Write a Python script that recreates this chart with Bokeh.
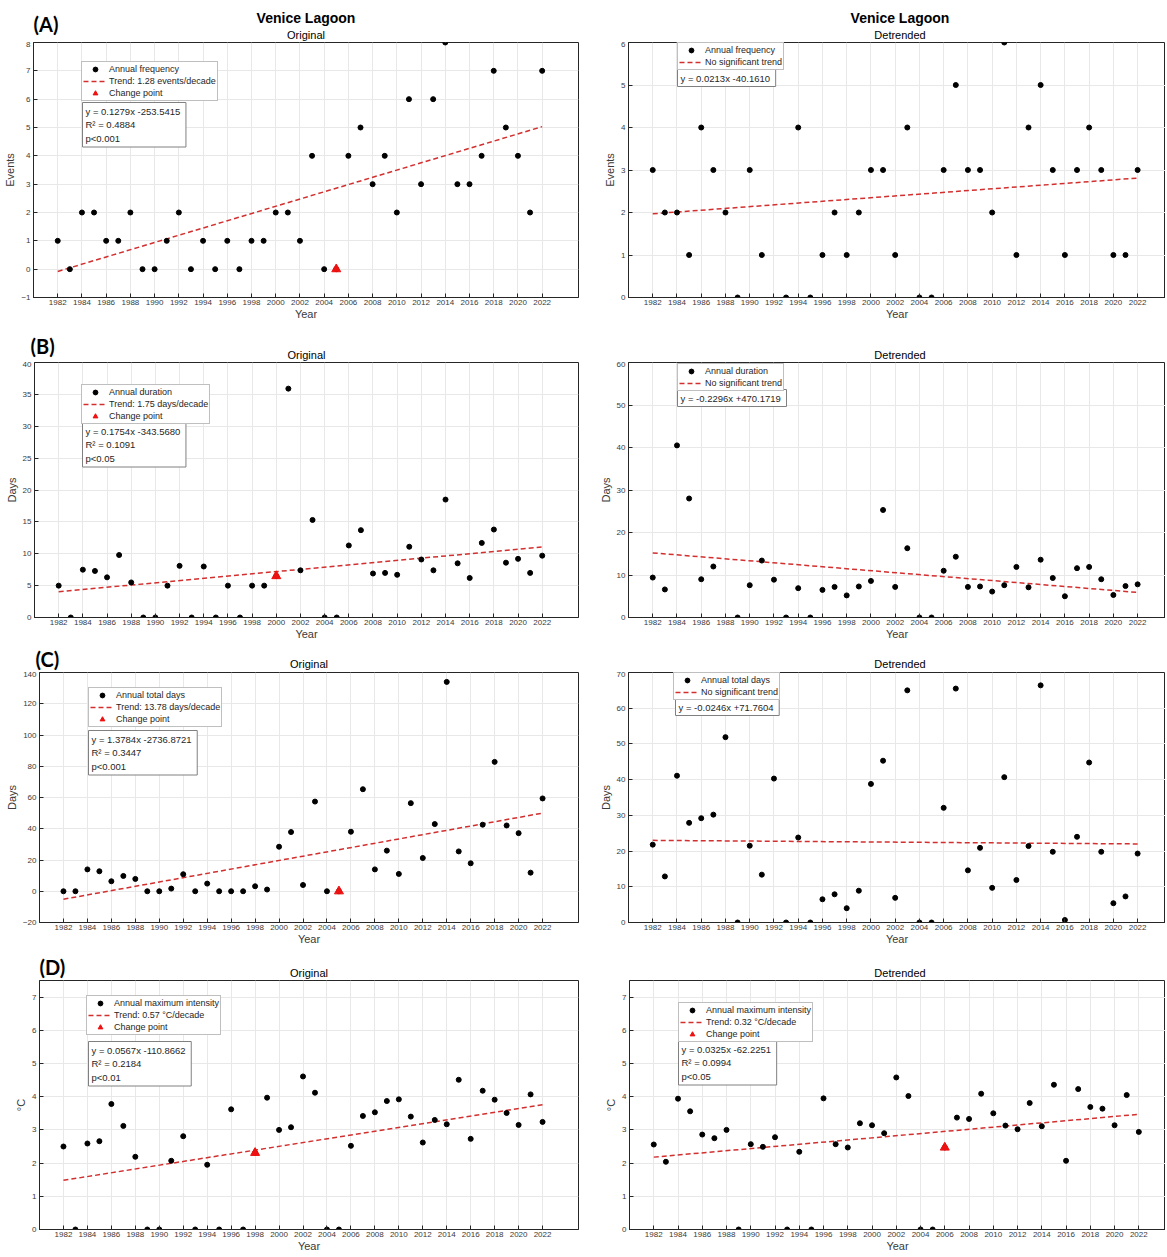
from bokeh.plotting import figure
from bokeh.models import Range1d, FixedTicker, Legend, LegendItem, Label
from bokeh.layouts import column, row
from bokeh.embed import file_html
from bokeh.resources import INLINE
from bokeh.core.properties import value

nan = float("nan")

years = list(range(1982, 2023))
year_ticks = list(range(1982, 2023, 2))

# ---- (A) annual frequency of events ----
freq_orig = [1, 0, 2, 2, 1, 1, 2, 0, 0, 1,
             2, 0, 1, 0, 1, 0, 1, 1, 2, 2,
             1, 4, 0, 0, 4, 5, 3, 4, 2, 6,
             3, 6, 8, 3, 3, 4, 7, 5, 4, 2,
             7]
freq_detr = [3, 2, 2, 1, 4, 3, 2, 0, 3, 1,
             nan, 0, 4, 0, 1, 2, 1, 2, 3, 3,
             1, 4, 0, 0, 3, 5, 3, 3, 2, 6,
             1, 4, 5, 3, 1, 3, 4, 3, 1, 1,
             3]
# ---- (B) annual duration (days) ----
dur_orig = [5.0, 0, 7.5, 7.3, 6.3, 9.8, 5.5, 0, 0, 5.0,
            8.1, 0, 8.0, 0, 5.0, 0, 5.0, 5.0, 6.5, 35.9,
            7.4, 15.3, 0, 0, 11.3, 13.7, 6.9, 7.0, 6.7, 11.1,
            9.1, 7.4, 18.5, 8.5, 6.2, 11.7, 13.8, 8.6, 9.2, 7.0,
            9.7]
dur_detr = [9.4, 6.6, 40.5, 28.0, 9.0, 12.0, nan, 0, 7.6, 13.4,
            8.9, 0, 6.9, 0, 6.5, 7.2, 5.2, 7.3, 8.6, 25.3,
            7.2, 16.3, 0, 0, 11.0, 14.3, 7.2, 7.3, 6.1, 7.6,
            11.9, 7.1, 13.6, 9.3, 5.0, 11.6, 11.9, 9.0, 5.3, 7.4,
            7.8]
# ---- (C) annual total days ----
total_orig = [0, 0, 14.0, 12.8, 6.4, 9.8, 7.9, 0, 0, 1.7,
              10.9, 0, 4.9, 0, 0, 0, 3.2, 1.1, 28.5, 37.9,
              4.0, 57.4, 0, 0, 38.1, 65.3, 14.0, 26.0, 11.1, 56.4,
              21.3, 43.0, 134.0, 25.5, 17.9, 42.6, 82.8, 42.1, 37.2, 11.9,
              59.4]
total_detr = [21.8, 12.9, 41.1, 27.9, 29.2, 30.2, 51.9, 0, 21.5, 13.4,
              40.3, 0, 23.8, 0, 6.5, 7.9, 4.0, 8.9, 38.8, 45.3,
              6.9, 65.0, 0, 0, 32.1, 65.5, 14.6, 20.9, 9.7, 40.7,
              11.9, 21.4, 66.4, 19.8, 0.7, 24.0, 44.8, 19.8, 5.4, 7.3,
              19.3]
# ---- (D) annual maximum intensity (deg C) ----
intens_orig = [2.50, 0, 2.59, 2.66, 3.78, 3.12, 2.19, 0, 0, 2.07,
               2.81, 0, 1.95, 0, 3.62, 0, 2.31, 3.97, 3.00, 3.08,
               4.61, 4.12, 0, 0, 2.52, 3.42, 3.53, 3.87, 3.92, 3.40,
               2.62, 3.30, 3.17, 4.51, 2.73, 4.18, 3.91, 3.51, 3.15, 4.07,
               3.24]
intens_detr = [2.56, 2.04, 3.94, 3.56, 2.86, 2.75, 3.00, 0, 2.57, 2.49,
               2.78, 0, 2.34, 0, 3.95, 2.57, 2.47, 3.20, 3.14, 2.90,
               4.58, 4.02, 0, 0, 2.47, 3.37, 3.33, 4.09, 3.50, 3.13,
               3.02, 3.81, 3.11, 4.36, 2.07, 4.23, 3.69, 3.64, 3.14, 4.05,
               2.94]

# trend lines, value at 1982 and at 2022
trend_years = [1982, 2022]
freq_orig_trend = [-0.08, 5.03]
freq_detr_trend = [1.97, 2.81]
dur_orig_trend = [4.04, 11.06]
dur_detr_trend = [15.2, 5.9]
total_orig_trend = [-5.1, 50.0]
total_detr_trend = [23.0, 22.0]
intens_orig_trend = [1.48, 3.76]
intens_detr_trend = [2.18, 3.47]

# change point years (None = no change point shown)
freq_orig_cp = 2005
dur_orig_cp = 2000
total_orig_cp = 2005
intens_orig_cp = 1998
intens_detr_cp = 2006

# y-axis ticks
freq_orig_ticks = [-1, 0, 1, 2, 3, 4, 5, 6, 7, 8]
freq_detr_ticks = [0, 1, 2, 3, 4, 5, 6]
dur_orig_ticks = [0, 5, 10, 15, 20, 25, 30, 35, 40]
dur_detr_ticks = [0, 10, 20, 30, 40, 50, 60]
total_orig_ticks = [-20, 0, 20, 40, 60, 80, 100, 120, 140]
total_detr_ticks = [0, 10, 20, 30, 40, 50, 60, 70]
intens_ticks = [0, 1, 2, 3, 4, 5, 6, 7]

FONT = "Liberation Sans"
DARK = "#262626"
TXT = "#3a3a3a"
TREND = "#d22f2f"
PAGE_W = 1165


def header(height, texts):
    """A strip above a row of panels holding the panel letter and the titles."""
    h = figure(width=PAGE_W, height=height, x_range=Range1d(0, PAGE_W), y_range=Range1d(0, height),
               x_axis_type=None, y_axis_type=None, output_backend="svg", toolbar_location=None,
               min_border=0, background_fill_color="white", border_fill_color="white")
    h.outline_line_color = None
    for (x, y, txt, font, size, style, align) in texts:
        h.text(x=[x], y=[y], text=[txt], text_font=value(font), text_font_size=size,
               text_font_style=style, text_align=align, text_baseline="middle", text_color="black")
    return h


def make_panel(data, trend, labels, eq_text, ylabel, yrange, yticks, cp,
               width, height, bl, br, bt, bb, x_end, leg_pos, eq_pos):
    fh = height - bt - bb
    p = figure(width=width, height=height,
               x_range=Range1d(1980, x_end), y_range=Range1d(*yrange),
               output_backend="svg", toolbar_location=None, title=None,
               min_border_left=bl, min_border_right=br,
               min_border_top=bt, min_border_bottom=bb,
               background_fill_color="white", border_fill_color="white")
    p.outline_line_color = DARK
    p.outline_line_alpha = 1.0
    p.xaxis.ticker = FixedTicker(ticks=year_ticks)
    p.yaxis.ticker = FixedTicker(ticks=yticks)
    p.xaxis.axis_label = "Year"
    p.yaxis.axis_label = ylabel
    for ax in (p.xaxis[0], p.yaxis[0]):
        ax.axis_line_color = DARK
        ax.major_tick_line_color = DARK
        ax.major_tick_in = 4
        ax.major_tick_out = 0
        ax.minor_tick_line_color = None
        ax.major_label_text_font = FONT
        ax.major_label_text_font_size = "8px"
        ax.major_label_text_color = TXT
        ax.major_label_standoff = 3
        ax.axis_label_text_font = FONT
        ax.axis_label_text_font_size = "11px"
        ax.axis_label_text_font_style = "normal"
        ax.axis_label_text_color = TXT
        ax.axis_label_standoff = 2
    p.xaxis[0].axis_label_standoff = 0
    p.xaxis[0].major_label_standoff = 2
    p.xgrid.grid_line_color = "#e8e8e8"
    p.ygrid.grid_line_color = "#e8e8e8"

    r_trend = p.line(trend_years, trend, line_color=TREND, line_width=1.5, line_dash="5 3")
    r_dots = p.scatter(years, data, marker="circle", size=5, fill_color="black", line_color="black")
    items = [LegendItem(label=labels[0], renderers=[r_dots]),
             LegendItem(label=labels[1], renderers=[r_trend])]
    if cp is not None:
        r_cp = p.scatter([cp], [data[years.index(cp)]], marker="triangle", size=9,
                         fill_color="#ee1111", line_color="#ee1111")
        items.append(LegendItem(label="Change point", renderers=[r_cp]))

    pad = 1
    row_h = 12
    lh = 2 * pad + row_h * len(items) + 2
    leg = Legend(items=items, location=(leg_pos[0], fh - leg_pos[1] - lh),
                 label_text_font=FONT, label_text_font_size="9px", label_text_color=DARK,
                 glyph_width=24, glyph_height=row_h, label_height=row_h, label_standoff=2,
                 padding=pad, spacing=0, margin=0,
                 border_line_color="#808080", border_line_width=1,
                 background_fill_color="white", background_fill_alpha=1.0)
    p.add_layout(leg)

    p.add_layout(Label(x=eq_pos[0], y=fh - eq_pos[1], x_units="screen", y_units="screen",
                       text=eq_text, text_align="left", text_baseline="top",
                       text_font=FONT, text_font_size="9.5px", text_color=DARK,
                       text_line_height=1.25, padding=3,
                       border_line_color="#808080", border_line_width=1,
                       background_fill_color="white", background_fill_alpha=1.0))
    return p


LW = 580
RW = PAGE_W - LW
XR = 2024.3

hA = header(41, [(33, 17.5, "(A)", "Lato", "20px", "bold", "left"),
                 (305.5, 24, "Venice Lagoon", FONT, "14px", "bold", "center"),
                 (899.5, 24, "Venice Lagoon", FONT, "14px", "bold", "center"),
                 (305.5, 7, "Original", FONT, "11px", "normal", "center"),
                 (899.5, 7, "Detrended", FONT, "11px", "normal", "center")])
pA1 = make_panel(freq_orig, freq_orig_trend,
                 ["Annual frequency", "Trend: 1.28 events/decade"],
                 "y = 0.1279x  -253.5415\nR² = 0.4884\np<0.001", "Events",
                 (-1, 8), freq_orig_ticks, freq_orig_cp,
                 LW, 284, 33, 2, 1, 28, 2025, (48, 19), (49, 60))
pA2 = make_panel(freq_detr, freq_detr_trend,
                 ["Annual frequency", "No significant trend"],
                 "y = 0.0213x  -40.1610", "Events",
                 (0, 6), freq_detr_ticks, None,
                 RW, 284, 48, 0, 1, 28, XR, (49, 0), (49, 27))

hB = header(36, [(30, 16, "(B)", "Lato", "20px", "bold", "left"),
                 (306, 7, "Original", FONT, "11px", "normal", "center"),
                 (899.5, 7, "Detrended", FONT, "11px", "normal", "center")])
pB1 = make_panel(dur_orig, dur_orig_trend,
                 ["Annual duration", "Trend: 1.75 days/decade"],
                 "y = 0.1754x  -343.5680\nR² = 0.1091\np<0.05", "Days",
                 (0, 40), dur_orig_ticks, dur_orig_cp,
                 LW, 284, 34, 2, 1, 28, 2025, (47, 22), (48, 60))
pB2 = make_panel(dur_detr, dur_detr_trend,
                 ["Annual duration", "No significant trend"],
                 "y = -0.2296x  +470.1719", "Days",
                 (0, 60), dur_detr_ticks, None,
                 RW, 284, 48, 0, 1, 28, XR, (49, 1), (49, 27))

hC = header(26, [(35, 12.5, "(C)", "Lato", "20px", "bold", "left"),
                 (308.5, 8, "Original", FONT, "11px", "normal", "center"),
                 (899.5, 8, "Detrended", FONT, "11px", "normal", "center")])
pC1 = make_panel(total_orig, total_orig_trend,
                 ["Annual total days", "Trend: 13.78 days/decade"],
                 "y = 1.3784x  -2736.8721\nR² = 0.3447\np<0.001", "Days",
                 (-20, 140), total_orig_ticks, total_orig_cp,
                 LW, 279, 39, 2, 1, 28, 2025, (49, 15), (49, 58))
pC2 = make_panel(total_detr, total_detr_trend,
                 ["Annual total days", "No significant trend"],
                 "y = -0.0246x  +71.7604", "Days",
                 (0, 70), total_detr_ticks, None,
                 RW, 279, 48, 0, 1, 28, XR, (45, 0), (47, 26))

hD = header(29, [(39, 13, "(D)", "Lato", "20px", "bold", "left"),
                 (308.5, 6.5, "Original", FONT, "11px", "normal", "center"),
                 (899.5, 6.5, "Detrended", FONT, "11px", "normal", "center")])
pD1 = make_panel(intens_orig, intens_orig_trend,
                 ["Annual maximum intensity", "Trend: 0.57 °C/decade"],
                 "y = 0.0567x  -110.8662\nR² = 0.2184\np<0.01", "°C",
                 (0, 7.5), intens_ticks, intens_orig_cp,
                 LW, 275, 39, 2, 1, 25, 2025, (47, 15), (49, 61))
pD2 = make_panel(intens_detr, intens_detr_trend,
                 ["Annual maximum intensity", "Trend: 0.32 °C/decade"],
                 "y = 0.0325x  -62.2251\nR² = 0.0994\np<0.05", "°C",
                 (0, 7.5), intens_ticks, intens_detr_cp,
                 RW, 275, 49, 0, 1, 25, 2024.2, (49, 22), (49, 60))

layout = column(hA, row(pA1, pA2), hB, row(pB1, pB2),
                hC, row(pC1, pC2), hD, row(pD1, pD2))

with open("out.html", "w") as f:
    f.write(file_html(layout, INLINE))
